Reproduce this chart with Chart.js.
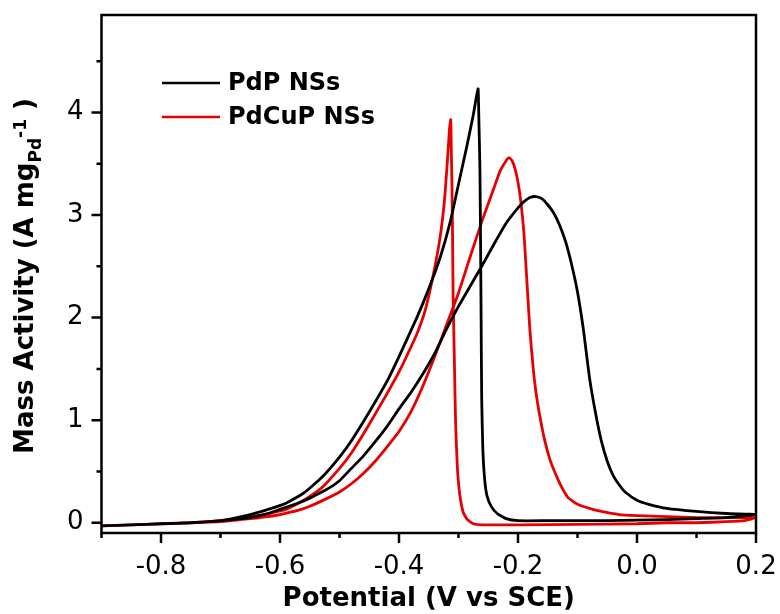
<!DOCTYPE html>
<html>
<head>
<meta charset="utf-8">
<title>Mass activity</title>
<script src="https://cdn.jsdelivr.net/npm/chart.js@4.4.0/dist/chart.umd.min.js"></script>
<style>
  html, body { margin: 0; padding: 0; background: #fff; }
  #wrap { width: 780px; height: 614px; }
</style>
</head>
<body>
<div id="wrap"><canvas id="cv" width="780" height="614"></canvas></div>
<script>
// PdP NSs : balayage aller (-0.9 -> 0.2) puis retour (0.2 -> -0.9)
const pdpPotential = [
  -0.90, -0.85, -0.80, -0.75, -0.70, -0.65, -0.62, -0.60, -0.57, -0.55, -0.52, -0.50, -0.48, -0.46, -0.44,
  -0.42, -0.40, -0.38, -0.36, -0.34, -0.32, -0.30, -0.28, -0.26, -0.24, -0.22, -0.20, -0.19, -0.18, -0.17,
  -0.16, -0.15, -0.14, -0.13, -0.12, -0.11, -0.10, -0.09, -0.08, -0.07, -0.06, -0.05, -0.04, -0.03, -0.02,
  0.00, 0.02, 0.05, 0.10, 0.15, 0.20,
  0.15, 0.10, 0.05, 0.00, -0.05, -0.10, -0.15, -0.20, -0.22, -0.235, -0.245, -0.252, -0.256, -0.259, -0.261,
  -0.262, -0.263, -0.264, -0.266, -0.267, -0.270, -0.275, -0.286, -0.300, -0.314, -0.33, -0.35, -0.37, -0.40,
  -0.42, -0.45, -0.48, -0.50, -0.53, -0.56, -0.59, -0.62, -0.65, -0.70, -0.75, -0.80, -0.85, -0.90
];
const pdpActivity = [
  -0.03, -0.02, -0.01, 0.00, 0.02, 0.05, 0.09, 0.13, 0.19, 0.24, 0.33, 0.41, 0.53, 0.65, 0.79,
  0.94, 1.11, 1.27, 1.45, 1.65, 1.89, 2.11, 2.31, 2.51, 2.72, 2.92, 3.07, 3.13, 3.17, 3.18,
  3.16, 3.10, 3.02, 2.90, 2.74, 2.52, 2.25, 1.88, 1.42, 1.08, 0.80, 0.60, 0.46, 0.37, 0.30,
  0.22, 0.18, 0.14, 0.11, 0.09, 0.08,
  0.05, 0.04, 0.03, 0.025, 0.02, 0.02, 0.02, 0.02, 0.04, 0.09, 0.16, 0.26, 0.42, 0.70, 1.20,
  2.00, 2.80, 3.45, 4.00, 4.23, 4.15, 3.98, 3.67, 3.30, 2.93, 2.60, 2.28, 2.00, 1.62,
  1.38, 1.08, 0.80, 0.64, 0.44, 0.29, 0.19, 0.13, 0.08, 0.02, 0.00, -0.01, -0.02, -0.03
];

// PdCuP NSs
const pdcupPotential = [
  -0.90, -0.85, -0.80, -0.75, -0.70, -0.65, -0.62, -0.60, -0.57, -0.55, -0.52, -0.50, -0.48, -0.46, -0.44,
  -0.42, -0.40, -0.38, -0.36, -0.34, -0.32, -0.30, -0.28, -0.26, -0.24, -0.23, -0.22, -0.215, -0.21, -0.205,
  -0.20, -0.195, -0.19, -0.185, -0.18, -0.175, -0.17, -0.163, -0.155, -0.146, -0.135, -0.125, -0.115, -0.10, -0.08,
  -0.06, -0.03, 0.00, 0.05, 0.10, 0.15, 0.20,
  0.18, 0.15, 0.10, 0.05, 0.00, -0.10, -0.20, -0.26, -0.275, -0.285, -0.292, -0.298, -0.302, -0.305, -0.307,
  -0.309, -0.310, -0.311, -0.312, -0.313, -0.315, -0.317, -0.323, -0.331, -0.343, -0.356, -0.37, -0.385, -0.40,
  -0.42, -0.45, -0.48, -0.50, -0.53, -0.56, -0.59, -0.62, -0.65, -0.70, -0.75, -0.80, -0.85, -0.90
];
const pdcupActivity = [
  -0.03, -0.02, -0.01, 0.00, 0.01, 0.04, 0.06, 0.08, 0.12, 0.16, 0.24, 0.30, 0.38, 0.48, 0.60,
  0.74, 0.89, 1.08, 1.33, 1.62, 1.93, 2.24, 2.60, 2.95, 3.27, 3.43, 3.53, 3.56, 3.53, 3.45,
  3.32, 3.12, 2.82, 2.35, 1.88, 1.54, 1.28, 1.03, 0.80, 0.61, 0.45, 0.33, 0.24, 0.18, 0.14,
  0.11, 0.08, 0.07, 0.06, 0.05, 0.05, 0.05,
  0.02, 0.01, 0.00, 0.00, -0.01, -0.015, -0.02, -0.02, -0.01, 0.03, 0.10, 0.28, 0.55, 1.00, 1.60,
  2.20, 2.80, 3.30, 3.60, 3.93, 3.85, 3.67, 3.18, 2.78, 2.40, 2.07, 1.84, 1.65, 1.47,
  1.26, 0.96, 0.68, 0.53, 0.34, 0.22, 0.13, 0.09, 0.06, 0.02, 0.00, -0.01, -0.02, -0.03
];

const seriesNames = ['PdP NSs', 'PdCuP NSs'];
const seriesColors = ['#000000', '#e60000'];

const fam = "'DejaVu Sans', sans-serif";

function toPoints(xs, ys) {
  return xs.map((v, i) => ({x: v, y: ys[i]}));
}

function isMajorX(v) { return Math.round(v * 10) % 2 === 0; }
function isMajorY(v) { return Math.abs(v - Math.round(v)) < 1e-6; }

// pas de marge automatique autour des axes : zone de tracé fixe
function noPad(s) {
  s.paddingLeft = 0;
  s.paddingRight = 0;
  s.paddingTop = 0;
  s.paddingBottom = 0;
}

// cadre, petites graduations, titre y (indice/exposant) et légende
const decor = {
  id: 'decor',
  afterDraw(chart) {
    const ctx = chart.ctx;
    const a = chart.chartArea;
    const xs = chart.scales.x, ys = chart.scales.y;
    ctx.save();
    ctx.strokeStyle = '#000';
    ctx.lineWidth = 2.5;
    ctx.strokeRect(a.left, a.top, a.right - a.left, a.bottom - a.top);

    ctx.beginPath();
    xs.ticks.forEach(t => {
      const px = xs.getPixelForValue(t.value);
      const len = isMajorX(t.value) ? 10 : 5;
      ctx.moveTo(px, a.bottom);
      ctx.lineTo(px, a.bottom + len);
    });
    ys.ticks.forEach(t => {
      const py = ys.getPixelForValue(t.value);
      const len = isMajorY(t.value) ? 10 : 5;
      ctx.moveTo(a.left, py);
      ctx.lineTo(a.left - len, py);
    });
    ctx.stroke();

    // titre axe y
    const parts = [
      {t: 'Mass Activity (A mg', size: 26, dy: 0},
      {t: 'Pd', size: 17, dy: 8},
      {t: '-1', size: 17, dy: -7},
      {t: ' )', size: 26, dy: 0}
    ];
    let total = 0;
    parts.forEach(p => {
      ctx.font = 'bold ' + p.size + 'px ' + fam;
      p.w = ctx.measureText(p.t).width;
      total += p.w;
    });
    ctx.translate(33, 276);
    ctx.rotate(-Math.PI / 2);
    ctx.fillStyle = '#000';
    ctx.textBaseline = 'alphabetic';
    let x = -total / 2;
    parts.forEach(p => {
      ctx.font = 'bold ' + p.size + 'px ' + fam;
      ctx.fillText(p.t, x, p.dy);
      x += p.w;
    });
    ctx.restore();

    // légende
    ctx.save();
    ctx.font = 'bold 24px ' + fam;
    ctx.textBaseline = 'middle';
    ctx.lineWidth = 2.5;
    seriesNames.forEach((name, i) => {
      const y = 83 + i * 34;
      ctx.strokeStyle = seriesColors[i];
      ctx.beginPath();
      ctx.moveTo(162, y);
      ctx.lineTo(220, y);
      ctx.stroke();
      ctx.fillStyle = '#000';
      ctx.fillText(name, 228, y + 1);
    });
    ctx.restore();
  }
};

new Chart(document.getElementById('cv'), {
  type: 'scatter',
  data: {
    datasets: [
      {
        label: seriesNames[0],
        data: toPoints(pdpPotential, pdpActivity),
        showLine: true,
        borderColor: seriesColors[0],
        borderWidth: 2.8,
        pointRadius: 0,
        tension: 0.15
      },
      {
        label: seriesNames[1],
        data: toPoints(pdcupPotential, pdcupActivity),
        showLine: true,
        borderColor: seriesColors[1],
        borderWidth: 2.8,
        pointRadius: 0,
        tension: 0.15
      }
    ]
  },
  options: {
    responsive: false,
    animation: false,
    devicePixelRatio: 1,
    layout: { padding: { top: 15, right: 24, left: 0, bottom: 0 } },
    plugins: { legend: { display: false }, tooltip: { enabled: false } },
    scales: {
      x: {
        type: 'linear',
        min: -0.9,
        max: 0.2,
        afterFit: s => { s.height = 81; noPad(s); },
        grid: { display: false, drawTicks: false },
        border: { display: false },
        ticks: {
          stepSize: 0.1,
          includeBounds: false,
          autoSkip: false,
          maxRotation: 0,
          padding: 19,
          color: '#000',
          font: { family: fam, size: 26 },
          callback: v => isMajorX(v) ? (Math.abs(v) < 1e-9 ? '0.0' : v.toFixed(1)) : ''
        },
        title: {
          display: true,
          text: 'Potential (V vs SCE)',
          color: '#000',
          padding: { top: 0, bottom: 0 },
          font: { family: fam, size: 26, weight: 'bold', lineHeight: 1.1 }
        }
      },
      y: {
        type: 'linear',
        min: -0.1,
        max: 4.95,
        afterFit: s => { s.width = 101.5; noPad(s); },
        grid: { display: false, drawTicks: false },
        border: { display: false },
        ticks: {
          stepSize: 0.5,
          includeBounds: false,
          autoSkip: false,
          padding: 18,
          color: '#000',
          font: { family: fam, size: 26 },
          callback: v => isMajorY(v) ? String(Math.round(v)) : ''
        }
      }
    }
  },
  plugins: [decor]
});
</script>
</body>
</html>
